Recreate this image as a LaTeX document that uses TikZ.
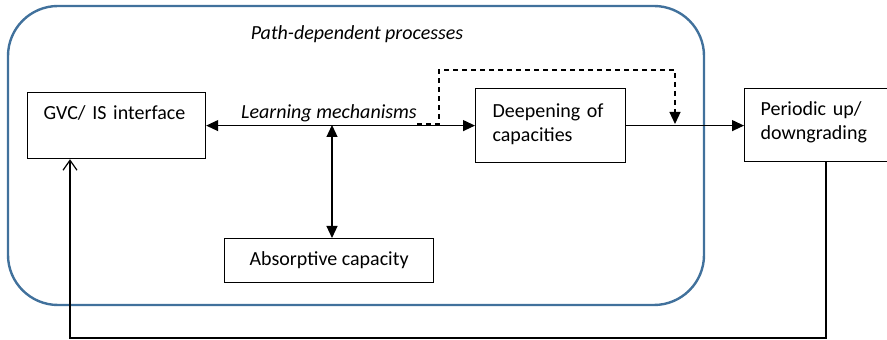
\documentclass[tikz,border=0pt]{standalone}
\usepackage{fontspec}
\setmainfont{Carlito}
\usetikzlibrary{arrows.meta}
\definecolor{frameblue}{RGB}{65,113,156}
\begin{document}
\begin{tikzpicture}[x=0.5pt, y=-0.5pt, line width=0.6pt,
    box/.style={draw, rectangle, inner ysep=0pt, align=left, anchor=north west},
    tip/.style={-{Triangle[length=6pt,width=5.5pt]}},
    both/.style={{Triangle[length=6pt,width=5.5pt]}-{Triangle[length=6pt,width=5.5pt]}},
    back/.style={-{Straight Barb[length=5pt,width=7pt]}}]
  \useasboundingbox (0,0) rectangle (887,340);

  % Frame
  \draw[frameblue, line width=1.2pt, rounded corners=25pt] (8,6) rectangle (704,305);
  \node[font=\itshape, anchor=base] at (357,40) (path) {Path-dependent processes};

  % Nodes
  \node[box, text width=73pt, inner xsep=8pt, text height=13.5pt, text depth=19.5pt] at (27,92) (gvc) {GVC/ IS interface};
  \node[box, text width=58pt, inner xsep=8.5pt, text height=14.5pt, text depth=22.5pt] at (475,88) (deep) {Deepening of\\capacities};
  \node[box, text width=66pt, inner xsep=8pt, text height=13.5pt, text depth=23pt] at (744,88) (peri) {Periodic up/\\downgrading};
  \node[box, align=center, inner sep=0pt, minimum width=104.5pt, minimum height=22pt] at (224,238) (abs) {Absorptive capacity};
  \node[font=\itshape, anchor=base] at (329,119) (lm) {Learning mechanisms};

  \coordinate (hub) at (332,125);
  \coordinate (dstart) at (417,124);
  \coordinate (dmerge) at (675,124);
  \coordinate (fbr) at (826,338);
  \coordinate (fbl) at (70,338);

  \draw[both] (gvc) -- (deep);
  \draw[both] (hub) -- (abs.north -| hub);
  \draw[dashed, dash pattern=on 2.5pt off 2pt, tip] (dstart) -| (439,70) -| (dmerge);
  \draw[tip] (deep.east) -- (deep.east -| peri.west);
  \draw[back] (peri.south -| fbr) |- (fbl) -- (fbl |- gvc.south);
\end{tikzpicture}
\end{document}
